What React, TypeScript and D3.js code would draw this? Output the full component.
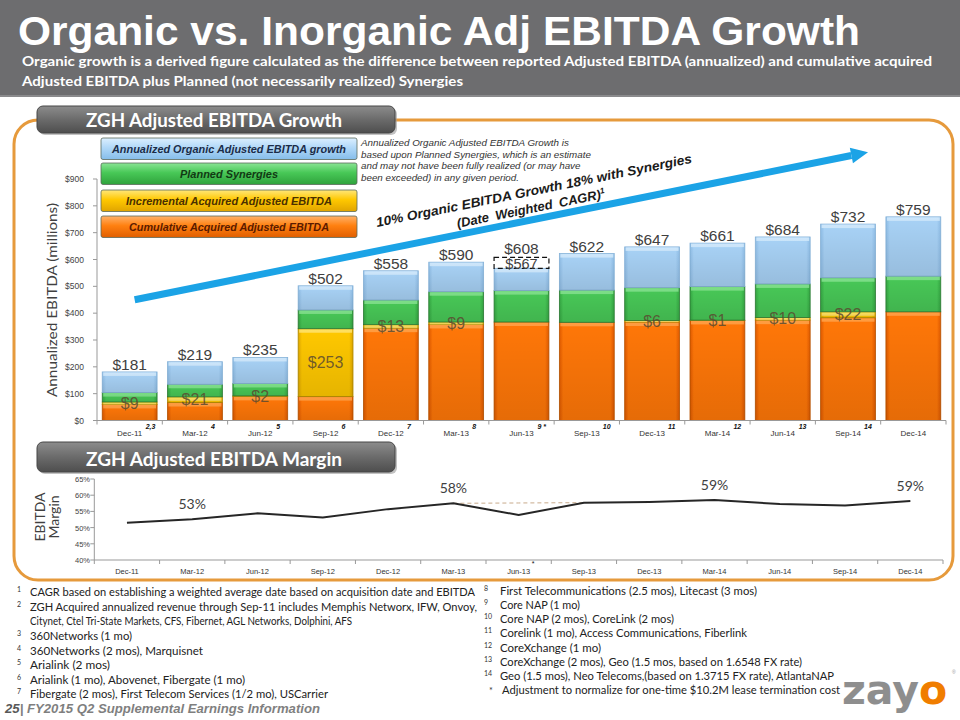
import React from 'react';
import * as d3 from 'd3';

const categories = ["Dec-11","Mar-12","Jun-12","Sep-12","Dec-12","Mar-13","Jun-13","Sep-13","Dec-13","Mar-14","Jun-14","Sep-14","Dec-14"];
const cumulativeAcquired = [60, 67, 90, 89, 344, 358, 367, 366, 367, 373, 374, 383, 405];
const incrementalAcquired = [9, 21, 2, 253, 13, 9, 0, 0, 6, 1, 10, 22, 0];
const plannedSynergies = [35, 47, 46, 70, 92, 113, 117, 120, 122, 125, 125, 127, 133];
const organicGrowth = [77, 84, 97, 90, 109, 110, 83, 136, 152, 162, 175, 200, 221];
const totalLabels = [181, 219, 235, 502, 558, 590, 608, 622, 647, 661, 684, 732, 759];
const adjustmentCategory = "Jun-13";
const reportedValue = 567;
const adjustedValue = 608;
const footnoteMarkers = ["2,3","4","5","6","7","8","9 *","10","11","12","13","14",""];
const barYTicks = [0,100,200,300,400,500,600,700,800,900];

const marginPct = [51.5, 52.6, 54.4, 53.1, 55.7, 57.5, 53.9, 57.7, 57.9, 58.5, 57.3, 56.8, 58.2];
const marginLabels = ["", "53%", "", "", "", "58%", "", "", "", "59%", "", "", "59%"];
const adjustedMarginCats = ["Mar-13","Jun-13","Sep-13"];
const adjustedMarginPct = [57.5, 57.6, 57.7];
const marginYTicks = [40,45,50,55,60,65];
const marginMarkers = ["","","","","","","*","","","","","",""];

const trendFrom = { cat: "Dec-11", value: 450 };
const trendTo = { cat: "Sep-14", value: 1000 };

const legendItems = [
  { label: "Annualized Organic Adjusted EBITDA growth", grad: "lgBlue", color: "#1b2c48", len: 234 },
  { label: "Planned Synergies", grad: "lgGreen", color: "#123a14", len: 98 },
  { label: "Incremental Acquired  Adjusted EBITDA", grad: "lgYellow", color: "#4a3000", len: 206 },
  { label: "Cumulative Acquired Adjusted EBITDA", grad: "lgOrange", color: "#5a1a00", len: 200 },
];

const noteLines = [
  "Annualized Organic Adjusted EBITDA Growth is",
  "based upon Planned Synergies, which is an estimate",
  "and may not have been fully realized (or may have",
  "been exceeded) in any given period.",
];

const footnotesLeft = [
  { sup: "1", text: "CAGR based on establishing a weighted average date based on acquisition date and EBITDA", len: 445 },
  { sup: "2", text: "ZGH Acquired annualized revenue through Sep-11 includes Memphis Networx, IFW,  Onvoy,", len: 447 },
  { sup: "", text: "Citynet, Ctel Tri-State Markets, CFS, Fibernet, AGL Networks, Dolphini, AFS", len: 322 },
  { sup: "3", text: "360Networks (1 mo)", len: 102 },
  { sup: "4", text: "360Networks (2 mos), Marquisnet", len: 173 },
  { sup: "5", text: "Arialink (2 mos)", len: 80 },
  { sup: "6", text: "Arialink (1 mo), Abovenet, Fibergate (1 mo)", len: 215 },
  { sup: "7", text: "Fibergate (2 mos), First Telecom Services (1/2 mo), USCarrier", len: 298 },
];
const footnotesRight = [
  { sup: "8", text: "First Telecommunications (2.5 mos), Litecast (3 mos)", len: 257 },
  { sup: "9", text: "Core NAP (1 mo)", len: 80 },
  { sup: "10", text: "Core NAP (2 mos), CoreLink (2 mos)", len: 174 },
  { sup: "11", text: "Corelink (1 mo), Access Communications, Fiberlink", len: 247 },
  { sup: "12", text: "CoreXchange (1 mo)", len: 101 },
  { sup: "13", text: "CoreXchange (2 mos), Geo (1.5 mos, based on 1.6548 FX rate)", len: 302 },
  { sup: "14", text: "Geo (1.5 mos), Neo Telecoms,(based on 1.3715 FX rate), AtlantaNAP", len: 334 },
  { sup: "*", text: "Adjustment to normalize for one-time $10.2M lease termination cost", len: 338 },
];

const ARIAL = "'Liberation Sans', Arial, sans-serif";
const CAL = "Lato, 'Open Sans', sans-serif";

const segStyles: Record<string, { grad: string; top: string; border: string }> = {
  cum: { grad: "bOrange", top: "#ffa24a", border: "#b85400" },
  inc: { grad: "bYellow", top: "#ffe470", border: "#b08a00" },
  syn: { grad: "bGreen", top: "#86e28f", border: "#2e7d36" },
  org: { grad: "bBlue", top: "#d3eafc", border: "#86b2d8" },
};

function HGrad({ id, edge, main }: { id: string; edge: string; main: string }) {
  return (
    <linearGradient id={id} x1="0" x2="1" y1="0" y2="0">
      <stop offset="0" stopColor={edge} />
      <stop offset="0.07" stopColor={main} />
      <stop offset="0.93" stopColor={main} />
      <stop offset="1" stopColor={edge} />
    </linearGradient>
  );
}
function VGrad({ id, c1, c2, c3 }: { id: string; c1: string; c2: string; c3: string }) {
  return (
    <linearGradient id={id} x1="0" x2="0" y1="0" y2="1">
      <stop offset="0" stopColor={c1} />
      <stop offset="0.45" stopColor={c2} />
      <stop offset="1" stopColor={c3} />
    </linearGradient>
  );
}

export default function App() {
  const xb = d3.scaleBand<string>().domain(categories).range([97, 946]).paddingInner(0.16).paddingOuter(0.08);
  const yb = d3.scaleLinear().domain([0, 900]).range([420.5, 179]);
  const xl = d3.scaleBand<string>().domain(categories).range([94.3, 943]);
  const yl = d3.scaleLinear().domain([40, 65]).range([560, 479]);

  const rows = categories.map((c, i) => ({
    cat: c, cum: cumulativeAcquired[i], inc: incrementalAcquired[i], syn: plannedSynergies[i], org: organicGrowth[i],
  }));
  const stack = d3.stack<any>().keys(["cum", "inc", "syn", "org"]);
  const layers = stack(rows);

  const bw = xb.bandwidth();
  const cx = (c: string) => (xb(c) as number) + bw / 2;
  const lx = (c: string) => (xl(c) as number) + xl.bandwidth() / 2;

  const line = d3.line<number>().x((_, i) => lx(categories[i])).y(d => yl(d));
  const dashLine = d3.line<number>().x((_, i) => lx(adjustedMarginCats[i])).y(d => yl(d));

  const bounds = categories.map(c => xb(c) as number - (xb.step() - bw) / 2).concat([946]);
  const lbounds = categories.map(c => xl(c) as number).concat([943]);

  const ax1 = cx(trendFrom.cat) + 5, ay1 = yb(trendFrom.value);
  const ax2 = cx(trendTo.cat) + 20, ay2 = yb(trendTo.value);
  const ang = Math.atan2(ay2 - ay1, ax2 - ax1);
  const ahL = 17, ahW = 8;
  const bx = ax2 - ahL * Math.cos(ang), by = ay2 - ahL * Math.sin(ang);
  const px = -Math.sin(ang), py = Math.cos(ang);

  return (
    <svg width={960} height={720} style={{ position: 'absolute', left: 0, top: 0, background: '#fff' }}>
      <defs>
        <HGrad id="bOrange" edge="#e05a00" main="#ff7708" />
        <HGrad id="bYellow" edge="#e0a800" main="#ffc800" />
        <HGrad id="bGreen" edge="#35a843" main="#48c857" />
        <HGrad id="bBlue" edge="#8fbde6" main="#a8d2f6" />
        <linearGradient id="shade" x1="0" x2="0" y1="0" y2="1">
          <stop offset="0" stopColor="#000" stopOpacity="0" />
          <stop offset="1" stopColor="#000" stopOpacity="0.1" />
        </linearGradient>
        <VGrad id="lgBlue" c1="#dcefff" c2="#b0d8f8" c3="#86bdea" />
        <VGrad id="lgGreen" c1="#8ae494" c2="#48c857" c3="#2fa23c" />
        <VGrad id="lgYellow" c1="#ffe77a" c2="#ffc800" c3="#e0a400" />
        <VGrad id="lgOrange" c1="#ffb26a" c2="#ff8010" c3="#e05e00" />
        <linearGradient id="hdr" x1="0" x2="0" y1="0" y2="1">
          <stop offset="0" stopColor="#8c8c8c" />
          <stop offset="0.5" stopColor="#6b6b6b" />
          <stop offset="1" stopColor="#4e4e4e" />
        </linearGradient>
        <linearGradient id="logoFill" gradientUnits="userSpaceOnUse" x1={842} x2={960} y1={0} y2={0}>
          <stop offset="0" stopColor="#8e8e8e" />
          <stop offset="0.655" stopColor="#8e8e8e" />
          <stop offset="0.655" stopColor="#f07d00" />
          <stop offset="1" stopColor="#f07d00" />
        </linearGradient>
      </defs>

      {/* Title bar */}
      <rect x={0} y={0} width={960} height={97} fill="#6d6d6f" />
      <rect x={0} y={95} width={960} height={2} fill="#8a8a8c" />
      <text x={18} y={45} fill="#fff" fontFamily={ARIAL} fontWeight="bold" fontSize={41} textLength={842} lengthAdjust="spacingAndGlyphs">Organic vs. Inorganic Adj EBITDA Growth</text>
      <text x={22} y={66} fill="#fff" fontFamily={CAL} fontWeight="bold" fontSize={13.5} textLength={910} lengthAdjust="spacingAndGlyphs">Organic growth is a derived figure calculated as the difference between reported Adjusted EBITDA (annualized) and cumulative acquired</text>
      <text x={22} y={86} fill="#fff" fontFamily={CAL} fontWeight="bold" fontSize={13.5} textLength={441} lengthAdjust="spacingAndGlyphs">Adjusted EBITDA plus Planned (not necessarily realized) Synergies</text>

      {/* Orange frame */}
      <rect x={14} y={120} width={939} height={460} rx={24} ry={24} fill="none" stroke="#e69a3c" strokeWidth={3} />

      {/* Headers */}
      {[{ y: 106, h: 27, t: "ZGH Adjusted EBITDA Growth" }, { y: 442, h: 30, t: "ZGH Adjusted EBITDA Margin" }].map((hd, i) => (
        <g key={i}>
          <rect x={39} y={hd.y + 2} width={358} height={hd.h} rx={6} fill="#9a9a9a" opacity={0.6} />
          <rect x={37} y={hd.y} width={358} height={hd.h} rx={6} fill="url(#hdr)" stroke="#474747" strokeWidth={1} />
          <text x={214} y={hd.y + hd.h - 6.5} textAnchor="middle" fill="#fff" fontFamily={CAL} fontWeight="bold" fontSize={18.5} textLength={256} lengthAdjust="spacingAndGlyphs">{hd.t}</text>
        </g>
      ))}

      {/* Legend */}
      {legendItems.map((it, i) => {
        const ys = [138, 163, 190, 216];
        return (
          <g key={i}>
            <rect x={101} y={ys[i]} width={256} height={21.5} rx={2} fill={`url(#${it.grad})`} stroke="#5a6a5a" strokeWidth={0.8} />
            <text x={229} y={ys[i] + 15} textAnchor="middle" fill={it.color} fontFamily={ARIAL} fontWeight="bold" fontStyle="italic" fontSize={10.5} textLength={it.len} lengthAdjust="spacingAndGlyphs">{it.label}</text>
          </g>
        );
      })}
      {noteLines.map((l, i) => (
        <text key={i} x={361} y={146 + i * 11.6} fill="#333" fontFamily={ARIAL} fontStyle="italic" fontSize={9.8}>{l}</text>
      ))}

      {/* Bar chart axes */}
      <line x1={97} x2={97} y1={179} y2={420.5} stroke="#999" />
      {barYTicks.map(t => (
        <g key={t}>
          <line x1={93} x2={97} y1={yb(t)} y2={yb(t)} stroke="#999" />
          <text x={84} y={yb(t) + 3} textAnchor="end" fill="#444" fontFamily={ARIAL} fontSize={8.5}>{`$${t}`}</text>
        </g>
      ))}
      <text transform={`translate(57,300) rotate(-90)`} textAnchor="middle" fill="#404040" fontFamily={CAL} fontSize={14} textLength={194} lengthAdjust="spacingAndGlyphs">Annualized EBITDA  (millions)</text>

      {/* Bars */}
      {layers.map(layer => layer.map((d, i) => {
        const h = yb(d[0]) - yb(d[1]);
        if (h <= 0.01) return null;
        const st = segStyles[layer.key];
        const x = xb(categories[i]) as number;
        return (
          <g key={layer.key + i}>
            <rect x={x} y={yb(d[1])} width={bw} height={h} fill={`url(#${st.grad})`} stroke={st.border} strokeWidth={0.8} />
            <rect x={x + 1} y={yb(d[1]) + 0.5} width={bw - 2} height={Math.min(3.5, h - 0.5)} fill={st.top} opacity={0.85} />
            <rect x={x} y={yb(d[1])} width={bw} height={h} fill="url(#shade)" />
          </g>
        );
      }))}

      {/* incremental labels */}
      {layers[1].map((d, i) => incrementalAcquired[i] > 0 ? (
        <text key={i} x={cx(categories[i])} y={(yb(d[0]) + yb(d[1])) / 2 + 5.5} textAnchor="middle" fill="#5a4a30" fillOpacity={0.85} fontFamily={ARIAL} fontSize={16}>{`$${incrementalAcquired[i]}`}</text>
      ) : null)}

      {/* Adjustment box */}
      <rect x={xb(adjustmentCategory) as number} y={yb(adjustedValue)} width={bw} height={yb(reportedValue) - yb(adjustedValue)} fill="none" stroke="#111" strokeWidth={1.2} strokeDasharray="5,3" />
      <text x={cx(adjustmentCategory)} y={(yb(adjustedValue) + yb(reportedValue)) / 2 + 6} textAnchor="middle" fill="#404040" fontFamily={ARIAL} fontSize={14.5}>{`$${reportedValue}`}</text>

      {/* total labels */}
      {totalLabels.map((v, i) => (
        <text key={i} x={cx(categories[i])} y={yb(v) - (categories[i] === adjustmentCategory ? 3.5 : 2)} textAnchor="middle" fill="#404040" fontFamily={ARIAL} fontSize={15.5}>{`$${v}`}</text>
      ))}

      {/* x axis */}
      <line x1={97} x2={946} y1={420.5} y2={420.5} stroke="#999" />
      {bounds.map((b, i) => <line key={i} x1={b} x2={b} y1={420.5} y2={424.5} stroke="#999" />)}
      {categories.map((c, i) => (
        <g key={c}>
          <text x={cx(c)} y={436} textAnchor="middle" fill="#333" fontFamily={ARIAL} fontSize={8}>{c}</text>
          {footnoteMarkers[i] && <text x={cx(c) + 16} y={429} fill="#111" fontFamily={ARIAL} fontWeight="bold" fontStyle="italic" fontSize={7}>{footnoteMarkers[i]}</text>}
        </g>
      ))}

      {/* Trend arrow */}
      <line x1={ax1} y1={ay1} x2={bx} y2={by} stroke="#1ba3e6" strokeWidth={7} />
      <polygon points={`${ax2},${ay2} ${bx + px * ahW},${by + py * ahW} ${bx - px * ahW},${by - py * ahW}`} fill="#1ba3e6" />
      <g transform={`translate(377,227) rotate(-11.5)`}>
        <text x={0} y={0} fill="#1a1a1a" fontFamily={ARIAL} fontWeight="bold" fontStyle="italic" fontSize={13} textLength={322} lengthAdjust="spacingAndGlyphs">10% Organic EBITDA Growth  18% with Synergies</text>
        <text x={79} y={17} fill="#1a1a1a" fontFamily={ARIAL} fontWeight="bold" fontStyle="italic" fontSize={13} wordSpacing={3}>(Date Weighted CAGR)<tspan dy={-5} fontSize={8}>1</tspan></text>
      </g>

      {/* Margin chart */}
      <line x1={94.3} x2={94.3} y1={479} y2={560} stroke="#999" />
      {marginYTicks.map(t => (
        <g key={t}>
          <line x1={90.3} x2={94.3} y1={yl(t)} y2={yl(t)} stroke="#999" />
          <text x={90} y={yl(t) + 3} textAnchor="end" fill="#444" fontFamily={ARIAL} fontSize={7.5}>{`${t}%`}</text>
        </g>
      ))}
      <text transform="translate(45,517) rotate(-90)" textAnchor="middle" fill="#404040" fontFamily={CAL} fontSize={14}>EBITDA</text>
      <text transform="translate(59,517) rotate(-90)" textAnchor="middle" fill="#404040" fontFamily={CAL} fontSize={14}>Margin</text>
      <line x1={94.3} x2={943} y1={560} y2={560} stroke="#999" />
      {lbounds.map((b, i) => <line key={i} x1={b} x2={b} y1={560} y2={564} stroke="#999" />)}
      {categories.map((c, i) => (
        <g key={c}>
          <text x={lx(c)} y={574} textAnchor="middle" fill="#333" fontFamily={ARIAL} fontSize={7.5}>{c}</text>
          {marginMarkers[i] && <text x={lx(c) + 13} y={566} fill="#111" fontFamily={ARIAL} fontSize={7}>{marginMarkers[i]}</text>}
        </g>
      ))}
      <path d={dashLine(adjustedMarginPct) as string} fill="none" stroke="#c9ab8c" strokeWidth={1} strokeDasharray="4,3" />
      <path d={line(marginPct) as string} fill="none" stroke="#262626" strokeWidth={2} />
      {marginLabels.map((l, i) => l ? (
        <text key={i} x={lx(categories[i])} y={yl(marginPct[i]) - 10} textAnchor="middle" fill="#404040" fontFamily={CAL} fontSize={14}>{l}</text>
      ) : null)}

      {/* Footnotes */}
      {footnotesLeft.map((f, i) => (
        <g key={i}>
          {f.sup && <text x={17} y={592 + i * 14.64} fill="#333" fontFamily={CAL} fontSize={7}>{f.sup}</text>}
          <text x={30} y={596 + i * 14.64} fill="#222" fontFamily={CAL} fontSize={10.5} textLength={f.len} lengthAdjust="spacingAndGlyphs">{f.text}</text>
        </g>
      ))}
      {footnotesRight.map((f, i) => (
        <g key={i}>
          <text x={f.sup === "*" ? 489 : 484} y={(f.sup === "*" ? 595 : 591) + i * 14.14} fill="#333" fontFamily={CAL} fontSize={f.sup === "*" ? 9 : 7}>{f.sup}</text>
          <text x={f.sup === "*" ? 502 : 500} y={595 + i * 14.14} fill="#222" fontFamily={CAL} fontSize={10.5} textLength={f.len} lengthAdjust="spacingAndGlyphs">{f.text}</text>
        </g>
      ))}

      {/* Footer */}
      <text x={5} y={713} fill="#7f7f7f" fontFamily={ARIAL} fontWeight="bold" fontStyle="italic" fontSize={13.5} textLength={315} lengthAdjust="spacingAndGlyphs">
        <tspan fill="#595959">25</tspan>| FY2015 Q2 Supplemental Earnings Information
      </text>
      <text x={842} y={704} fill="url(#logoFill)" fontFamily="'DejaVu Sans', sans-serif" fontWeight="900" fontSize={41}>zayo</text>
      <text x={952} y={674} fill="#999" fontFamily={ARIAL} fontSize={5}>®</text>
    </svg>
  );
}
